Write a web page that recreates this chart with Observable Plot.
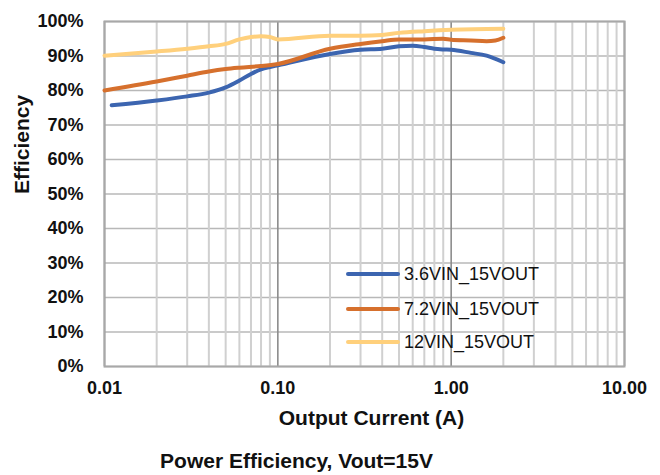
<!DOCTYPE html>
<html><head><meta charset="utf-8">
<script src="https://cdn.jsdelivr.net/npm/d3@7"></script>
<script src="https://cdn.jsdelivr.net/npm/@observablehq/plot@0.6"></script>
<style>
body{margin:0;background:#fff;font-family:"Liberation Sans",Arial,sans-serif}
#wrap{position:relative;width:660px;height:475px}
.row{position:absolute;left:346px;height:20px;display:flex;align-items:center;font-size:18px;color:#111;white-space:nowrap}
.row .sw{width:54px;height:4px;border-radius:2px;margin-right:4px}
</style></head><body><div id="wrap"></div>
<script>
const seriesNames = ["3.6VIN_15VOUT", "7.2VIN_15VOUT", "12VIN_15VOUT"];
const seriesColors = ["#3c65b0", "#d6702d", "#ffd07c"];

const current36 = [0.011, 0.02, 0.03, 0.04, 0.05, 0.06, 0.07, 0.08, 0.09, 0.1, 0.2, 0.3, 0.4, 0.5, 0.6, 0.7, 0.8, 0.9, 1.0, 1.3, 1.6, 2.0];
const eff36     = [75.7, 77.1, 78.3, 79.4, 80.9, 82.9, 84.8, 86.1, 86.8, 87.3, 90.6, 91.8, 92.1, 92.8, 93.0, 92.6, 92.1, 91.9, 91.8, 90.9, 90.1, 88.2];

const current72 = [0.01, 0.02, 0.03, 0.04, 0.05, 0.06, 0.08, 0.1, 0.2, 0.3, 0.4, 0.5, 0.7, 0.9, 1.0, 1.3, 1.6, 1.8, 2.0];
const eff72     = [80.0, 82.6, 84.3, 85.5, 86.2, 86.6, 87.1, 87.7, 92.1, 93.5, 94.3, 94.8, 94.8, 95.0, 94.7, 94.5, 94.3, 94.5, 95.3];

const current12 = [0.01, 0.02, 0.03, 0.04, 0.05, 0.06, 0.07, 0.08, 0.09, 0.1, 0.2, 0.3, 0.4, 0.5, 0.7, 1.0, 2.0];
const eff12     = [90.1, 91.3, 92.1, 92.8, 93.5, 94.8, 95.5, 95.7, 95.5, 94.8, 95.9, 95.9, 96.1, 96.7, 97.2, 97.6, 97.9];

const xTickValues = [0.01, 0.1, 1, 10];
const yTickValues = [0, 10, 20, 30, 40, 50, 60, 70, 80, 90, 100];
const xTitle = "Output Current (A)";
const yTitle = "Efficiency";
const chartTitle = "Power Efficiency, Vout=15V";

const rows = [];
[[current36, eff36], [current72, eff72], [current12, eff12]].forEach(([xs, ys], i) => {
  xs.forEach((x, j) => rows.push({series: seriesNames[i], x, y: ys[j]}));
});

const minorTicks = [];
for (const d of xTickValues.slice(0, 3)) for (let k = 2; k <= 9; k++) minorTicks.push(+(d * k).toPrecision(6));

const chart = Plot.plot({
  width: 660, height: 475,
  marginTop: 21, marginBottom: 109, marginLeft: 104, marginRight: 36,
  x: {type: "log", domain: [0.01, 10]},
  y: {domain: [0, 100]},
  color: {domain: seriesNames, range: seriesColors},
  style: {fontFamily: "'Liberation Sans', Arial, sans-serif", background: "white", color: "#111"},
  marks: [
    Plot.ruleY(yTickValues, {stroke: "#b8b8b8", strokeWidth: 1.6}),
    Plot.ruleX(minorTicks, {stroke: "#d0d0d0", strokeWidth: 2}),
    Plot.ruleX(xTickValues, {stroke: "#8c8c8c", strokeWidth: 1.6}),
    Plot.frame({stroke: "#a8a8a8", strokeWidth: 2}),
    Plot.line(rows, {x: "x", y: "y", z: "series", stroke: "series", strokeWidth: 4, curve: "monotone-x", strokeLinecap: "round"}),
    Plot.axisX({ticks: xTickValues, tickFormat: d3.format(".2f"), tickSize: 0, tickPadding: 15, fontSize: 18, fontWeight: "bold", label: null}),
    Plot.axisY({ticks: yTickValues, tickFormat: d => d + "%", tickSize: 0, tickPadding: 21, fontSize: 18, fontWeight: "bold", label: null}),
    Plot.text([xTitle], {text: d => d, frameAnchor: "bottom", dy: 58, dx: 7, fontSize: 21, fontWeight: "bold"}),
    Plot.text([yTitle], {text: d => d, frameAnchor: "left", rotate: -90, dx: -82, fontSize: 21, fontWeight: "bold"}),
    Plot.text([chartTitle], {text: d => d, frameAnchor: "bottom", dy: 101, dx: -68, fontSize: 21, fontWeight: "bold"})
  ]
});
const wrap = document.getElementById("wrap");
wrap.appendChild(chart);
const rowCenters = [274, 309, 342];
seriesNames.forEach((name, i) => {
  const r = document.createElement("div");
  r.className = "row";
  r.style.top = (rowCenters[i] - 10) + "px";
  r.innerHTML = `<span class="sw" style="background:${seriesColors[i]}"></span><span>${name}</span>`;
  wrap.appendChild(r);
});
</script></body></html>
